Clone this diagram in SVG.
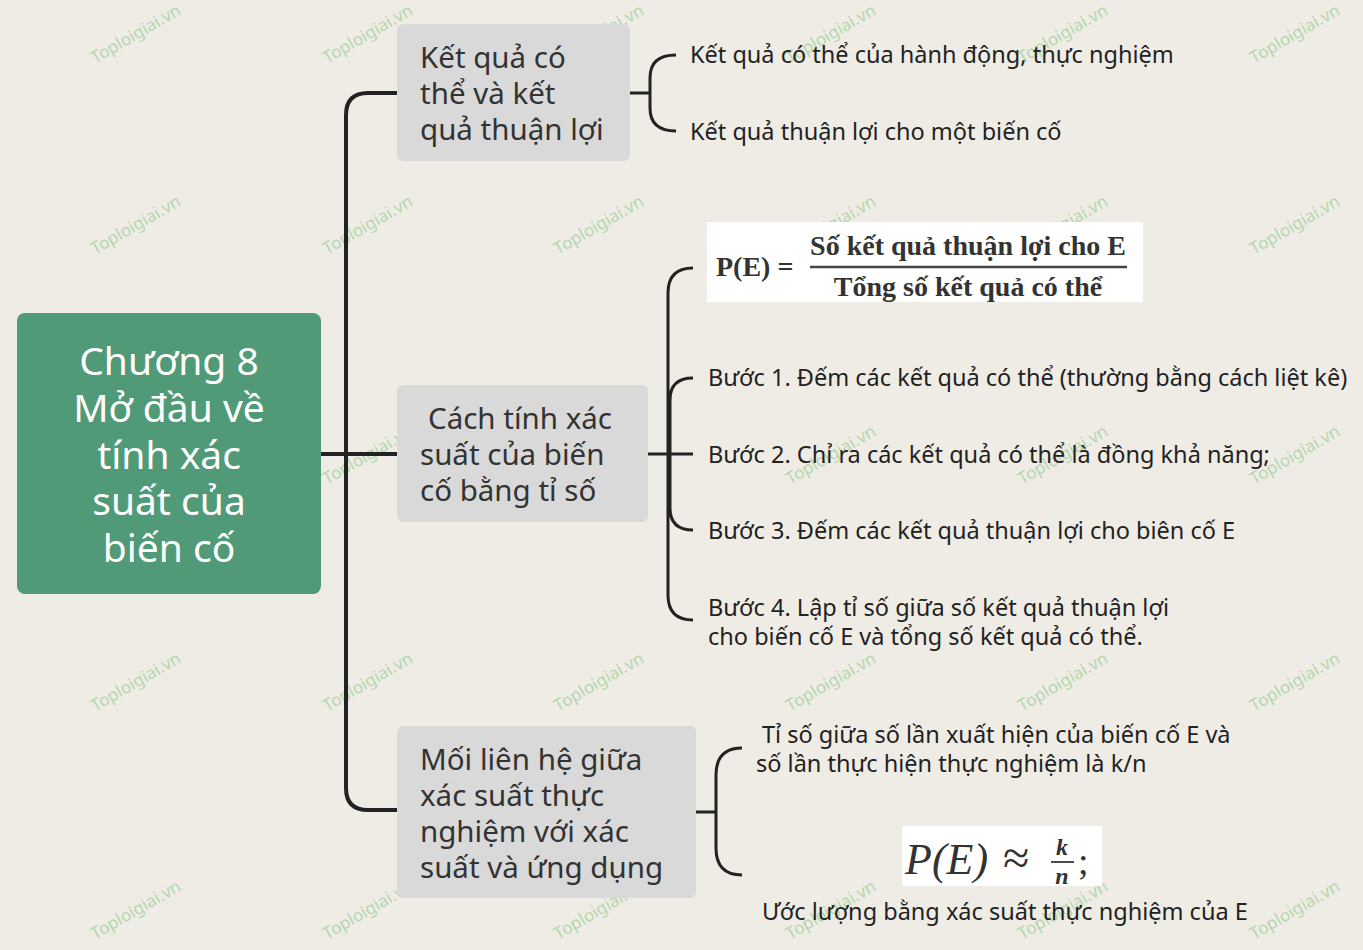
<svg xmlns="http://www.w3.org/2000/svg" width="1363" height="950" viewBox="0 0 1363 950">
<style>
.bg{fill:#efece5}
.conn{fill:none;stroke:#222;stroke-linecap:butt}
.root{fill:#519a77}
.rootT{font-family:"Noto Sans","Open Sans",sans-serif;font-size:39px;fill:#fff;text-anchor:middle}
.box{fill:#d9d9d9}
.boxT{font-family:"Noto Sans","Open Sans",sans-serif;font-size:29.5px;fill:#333}
.leaf{font-family:"Noto Sans","Open Sans",sans-serif;font-size:23.5px;fill:#222}
.wm{font-family:"Noto Sans",sans-serif;font-size:17px;fill:#5cb85c;opacity:0.4}
.frm{font-family:"Liberation Serif","DejaVu Serif",serif;fill:#333}
</style>
<rect class="bg" x="0" y="0" width="1363" height="950"/>
<g id="watermarks">
<text class="wm" transform="translate(95,64) rotate(-30)">Toploigiai.vn</text>
<text class="wm" transform="translate(327,64) rotate(-30)">Toploigiai.vn</text>
<text class="wm" transform="translate(558,64) rotate(-30)">Toploigiai.vn</text>
<text class="wm" transform="translate(790,64) rotate(-30)">Toploigiai.vn</text>
<text class="wm" transform="translate(1022,64) rotate(-30)">Toploigiai.vn</text>
<text class="wm" transform="translate(1254,64) rotate(-30)">Toploigiai.vn</text>
<text class="wm" transform="translate(95,255) rotate(-30)">Toploigiai.vn</text>
<text class="wm" transform="translate(327,255) rotate(-30)">Toploigiai.vn</text>
<text class="wm" transform="translate(558,255) rotate(-30)">Toploigiai.vn</text>
<text class="wm" transform="translate(790,255) rotate(-30)">Toploigiai.vn</text>
<text class="wm" transform="translate(1022,255) rotate(-30)">Toploigiai.vn</text>
<text class="wm" transform="translate(1254,255) rotate(-30)">Toploigiai.vn</text>
<text class="wm" transform="translate(327,485) rotate(-30)">Toploigiai.vn</text>
<text class="wm" transform="translate(558,485) rotate(-30)">Toploigiai.vn</text>
<text class="wm" transform="translate(790,485) rotate(-30)">Toploigiai.vn</text>
<text class="wm" transform="translate(1022,485) rotate(-30)">Toploigiai.vn</text>
<text class="wm" transform="translate(1254,485) rotate(-30)">Toploigiai.vn</text>
<text class="wm" transform="translate(95,712) rotate(-30)">Toploigiai.vn</text>
<text class="wm" transform="translate(327,712) rotate(-30)">Toploigiai.vn</text>
<text class="wm" transform="translate(558,712) rotate(-30)">Toploigiai.vn</text>
<text class="wm" transform="translate(790,712) rotate(-30)">Toploigiai.vn</text>
<text class="wm" transform="translate(1022,712) rotate(-30)">Toploigiai.vn</text>
<text class="wm" transform="translate(1254,712) rotate(-30)">Toploigiai.vn</text>
<text class="wm" transform="translate(95,940) rotate(-30)">Toploigiai.vn</text>
<text class="wm" transform="translate(327,940) rotate(-30)">Toploigiai.vn</text>
<text class="wm" transform="translate(558,940) rotate(-30)">Toploigiai.vn</text>
<text class="wm" transform="translate(790,940) rotate(-30)">Toploigiai.vn</text>
<text class="wm" transform="translate(1022,940) rotate(-30)">Toploigiai.vn</text>
<text class="wm" transform="translate(1254,940) rotate(-30)">Toploigiai.vn</text>
</g>
<g id="connectors">
<path class="conn" stroke-width="4" d="M321,454 H397 M397,93 H368 Q346,93 346,115 V788 Q346,810 368,810 H397"/>
<path class="conn" stroke-width="3" d="M630,93 H650 M676,55 Q650,55 650,78 V108 Q650,131 676,131"/>
<path class="conn" stroke-width="3" d="M648,454 H693 M693,268 Q668,268 668,293 V595 Q668,620 693,620 M693,378 Q670,378 670,400 V508 Q670,530 693,530"/>
<path class="conn" stroke-width="3" d="M696,812 H716 M742,748 Q716,748 716,775 V848 Q716,875 742,875"/>
</g>
<g id="root">
<rect class="root" x="17" y="313" width="304" height="281" rx="8"/>
<text class="rootT" x="169" y="375">Chương 8</text>
<text class="rootT" x="169" y="422">Mở đầu về</text>
<text class="rootT" x="169" y="469">tính xác</text>
<text class="rootT" x="169" y="515">suất của</text>
<text class="rootT" x="169" y="562">biến cố</text>
</g>
<g id="node1">
<rect class="box" x="397" y="24" width="233" height="137" rx="6"/>
<text class="boxT" x="420" y="68">Kết quả có</text>
<text class="boxT" x="420" y="104">thể và kết</text>
<text class="boxT" x="420" y="140">quả thuận lợi</text>
</g>
<g id="node1a"><text class="leaf" x="690" y="63">Kết quả có thể của hành động, thực nghiệm</text></g>
<g id="node1b"><text class="leaf" x="690" y="140">Kết quả thuận lợi cho một biến cố</text></g>
<g id="node2">
<rect class="box" x="397" y="385" width="251" height="137" rx="6"/>
<text class="boxT" x="428" y="429">Cách tính xác</text>
<text class="boxT" x="420" y="465">suất của biến</text>
<text class="boxT" x="420" y="501">cố bằng tỉ số</text>
</g>
<g id="node2f">
<rect x="707" y="222" width="436" height="80" fill="#fff"/>
<text class="frm" x="716" y="276" font-size="28" font-weight="bold">P(E) =</text>
<text class="frm" x="968" y="255" font-size="28" font-weight="bold" text-anchor="middle">Số kết quả thuận lợi cho E</text>
<line x1="810" y1="267" x2="1127" y2="267" stroke="#444" stroke-width="2.5"/>
<text class="frm" x="968" y="296" font-size="28" font-weight="bold" text-anchor="middle">Tổng số kết quả có thể</text>
</g>
<g id="node2a"><text class="leaf" x="708" y="386">Bước 1. Đếm các kết quả có thể (thường bằng cách liệt kê)</text></g>
<g id="node2b"><text class="leaf" x="708" y="463">Bước 2. Chỉ ra các kết quả có thể là đồng khả năng;</text></g>
<g id="node2c"><text class="leaf" x="708" y="539">Bước 3. Đếm các kết quả thuận lợi cho biên cố E</text></g>
<g id="node2d">
<text class="leaf" x="708" y="616">Bước 4. Lập tỉ số giữa số kết quả thuận lợi</text>
<text class="leaf" x="708" y="645">cho biến cố E và tổng số kết quả có thể.</text>
</g>
<g id="node3">
<rect class="box" x="397" y="726" width="299" height="172" rx="6"/>
<text class="boxT" x="420" y="770">Mối liên hệ giữa</text>
<text class="boxT" x="420" y="806">xác suất thực</text>
<text class="boxT" x="420" y="842">nghiệm với xác</text>
<text class="boxT" x="420" y="878">suất và ứng dụng</text>
</g>
<g id="node3a">
<text class="leaf" x="762" y="743">Tỉ số giữa số lần xuất hiện của biến cố E và</text>
<text class="leaf" x="756" y="772">số lần thực hiện thực nghiệm là k/n</text>
</g>
<g id="node3f">
<rect x="902" y="826" width="200" height="60" fill="#fff"/>
<text class="frm" x="905" y="874" font-size="44" font-style="italic" fill="#111">P(E)</text>
<text class="frm" x="1003" y="874" font-size="48" fill="#111">≈</text>
<text class="frm" x="1062" y="855" font-size="24" font-style="italic" font-weight="bold" fill="#111" text-anchor="middle">k</text>
<line x1="1051" y1="862" x2="1074" y2="862" stroke="#111" stroke-width="1.5"/>
<text class="frm" x="1062" y="884" font-size="24" font-style="italic" font-weight="bold" fill="#111" text-anchor="middle">n</text>
<text class="frm" x="1078" y="874" font-size="38" fill="#111">;</text>
</g>
<g id="node3b"><text class="leaf" x="762" y="920">Ước lượng bằng xác suất thực nghiệm của E</text></g>
</svg>
